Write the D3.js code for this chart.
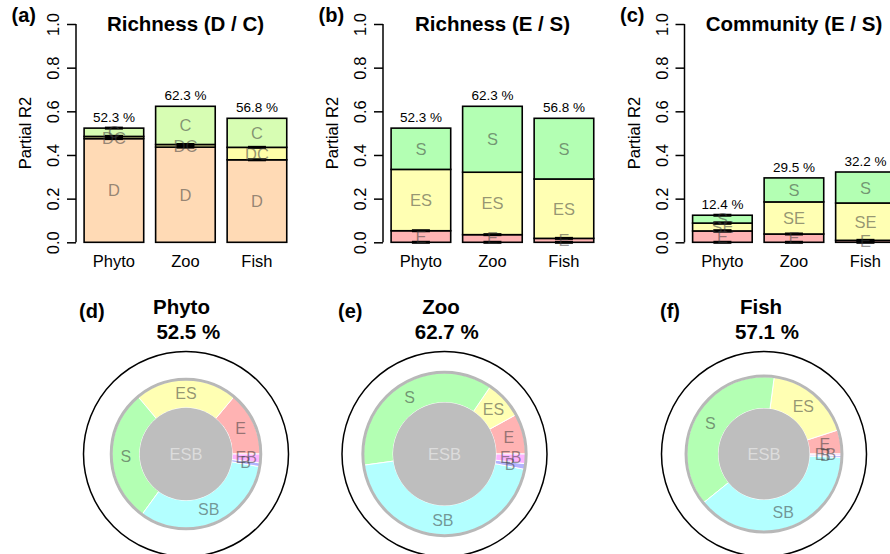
<!DOCTYPE html>
<html><head><meta charset="utf-8">
<script src="https://cdn.jsdelivr.net/npm/d3@7"></script>
<style>
body{margin:0;background:#fff}
svg{display:block}
text{font-family:"Liberation Sans",Arial,Helvetica,sans-serif}
</style>
</head><body>
<svg id="c" width="890" height="554"></svg>
<script>
// ---------------- DATA ----------------
const groups = ["Phyto", "Zoo", "Fish"];
const yTicks = [0, 0.2, 0.4, 0.6, 0.8, 1.0];
const panelLetters = ["(a)", "(b)", "(c)"];
const panelTitles = ["Richness (D / C)", "Richness (E / S)", "Community (E / S)"];

// (a) Richness D / C
const partsA = ["D", "DC", "C"];
const aD  = [0.475, 0.436, 0.378];
const aDC = [0.010, 0.012, 0.057];
const aC  = [0.038, 0.175, 0.133];

// (b) Richness E / S
const partsB = ["E", "ES", "S"];
const bE  = [0.053, 0.035, 0.018];
const bES = [0.281, 0.286, 0.272];
const bS  = [0.189, 0.302, 0.278];

// (c) Community E / S
const partsC = ["E", "SE", "S"];
const cE  = [0.052, 0.038, 0.009];
const cSE = [0.036, 0.147, 0.171];
const cS  = [0.036, 0.110, 0.142];

// (d)-(f) donuts
const donutLetters = ["(d)", "(e)", "(f)"];
const donutTotal  = [0.525, 0.627, 0.571];
const donutShared = [0.204, 0.252, 0.197];   // ESB
const ringParts = ["E", "ES", "S", "SB", "B", "EB"];
const ringPhyto = [0.139, 0.222, 0.289, 0.323, 0.008, 0.019];
const ringZoo   = [0.080, 0.075, 0.367, 0.448, 0.011, 0.019];
const ringFish  = [0.050, 0.179, 0.379, 0.385, 0.004, 0.003];

// ---------------- STYLE ----------------
const partColor = {
  D: "#FFDAB5", DC: "#FFFFA8", C: "#D7FDB3",
  E: "#FFB3B3", ES: "#FFFFB3", SE: "#FFFFB3", S: "#B3FFB3",
  SB: "#B3FFFF", B: "#B3B3FF", EB: "#FFB3FF"
};
const labelFill = "rgba(60,60,60,0.55)";

const svg = d3.select("#c");

// ---------------- BAR PANELS ----------------
const barPanels = [
  {parts: partsA, series: [aD, aDC, aC], axisX: 76},
  {parts: partsB, series: [bE, bES, bS], axisX: 383},
  {parts: partsC, series: [cE, cSE, cS], axisX: 684.5}
];
const unit = 59.6;
const y = d3.scaleLinear().domain([0, 1]).range([242.3, 24]);

barPanels.forEach((p, pi) => {
  const g = svg.append("g");
  const x = d3.scaleLinear().domain([0.064, 3.736]).range([p.axisX, p.axisX + 3.672 * unit]);

  // y axis
  const axis = d3.axisLeft(y).tickValues(yTicks).tickSize(9).tickFormat(d3.format(".1f"));
  const ag = g.append("g").attr("transform", `translate(${p.axisX},0)`).call(axis);
  ag.select(".domain").attr("stroke", "#000").attr("stroke-width", 1.5).attr("d", `M-9,${y(0)}H0V${y(1)}H-9`);
  ag.selectAll(".domain").attr("d", `M0,${y(0)}V${y(1)}`);
  ag.selectAll(".tick line").attr("stroke", "#000").attr("stroke-width", 1.5);
  ag.selectAll(".tick text")
    .attr("x", null).attr("dy", null)
    .attr("transform", "translate(-23,0) rotate(-90)")
    .attr("text-anchor", "middle")
    .attr("dominant-baseline", "central")
    .attr("font-size", 16.5).attr("fill", "#000")
    .style("font-family", '"Liberation Sans",Arial,sans-serif');

  // y label
  g.append("text")
    .attr("transform", `translate(${p.axisX - 51},${(y(0) + y(1)) / 2 + 0}) rotate(-90)`)
    .attr("text-anchor", "middle").attr("dominant-baseline", "central")
    .attr("font-size", 16.5).text("Partial R2");

  // title & letter
  g.append("text").attr("x", p.axisX + 109.5).attr("y", 31)
    .attr("text-anchor", "middle").attr("font-weight", "bold").attr("font-size", 20.5)
    .text(panelTitles[pi]);
  g.append("text").attr("x", p.axisX - 64.5).attr("y", 22)
    .attr("font-weight", "bold").attr("font-size", 20).text(panelLetters[pi]);

  groups.forEach((grp, gi) => {
    const left = x(0.2 + gi * 1.2), right = x(1.2 + gi * 1.2), cx = (left + right) / 2;
    let base = 0;
    const segs = p.parts.map((part, k) => {
      const v = p.series[k][gi];
      const s = {part, v, lo: base, hi: base + v};
      base += v;
      return s;
    });
    segs.forEach(s => {
      g.append("rect").attr("x", left).attr("width", right - left)
        .attr("y", y(s.hi)).attr("height", y(s.lo) - y(s.hi))
        .attr("fill", partColor[s.part]).attr("stroke", "#000").attr("stroke-width", 1.6);
    });
    segs.forEach(s => {
      if (s.v < 0.06) {
        [s.lo, s.hi].forEach(b => {
          g.append("line").attr("x1", cx - 9).attr("x2", cx + 9)
            .attr("y1", y(b)).attr("y2", y(b))
            .attr("stroke", "#000").attr("stroke-width", 3);
        });
      }
    });
    segs.forEach(s => {
      g.append("text").attr("x", cx).attr("y", y((s.lo + s.hi) / 2))
        .attr("text-anchor", "middle").attr("dominant-baseline", "central")
        .attr("font-size", 16.5).attr("fill", labelFill).text(s.part);
    });
    // total label
    g.append("text").attr("x", cx).attr("y", y(base) - 6)
      .attr("text-anchor", "middle").attr("font-size", 13.5)
      .text((base * 100).toFixed(1) + " %");
    // category label
    g.append("text").attr("x", cx).attr("y", 267)
      .attr("text-anchor", "middle").attr("font-size", 16.5).text(grp);
  });
});

// ---------------- DONUTS ----------------
const rings = [ringPhyto, ringZoo, ringFish];
const donutCX = [186, 444.5, 764];
const cy = 454, R = 102.5;
const titleDX = [-4.5, -3.5, -3];
const pctDX = [2.3, 2.2, 3];
const letterX = [79, 338, 660];

rings.forEach((vals, di) => {
  const cx = donutCX[di];
  const g = svg.append("g").attr("transform", `translate(${cx},${cy})`);
  const rOut = R * Math.sqrt(donutTotal[di]);
  const rIn = R * Math.sqrt(donutShared[di]);

  g.append("circle").attr("r", R).attr("fill", "none").attr("stroke", "#000").attr("stroke-width", 1.5);

  const pie = d3.pie().sort(null).value(d => d.v)
    .startAngle(Math.PI / 2).endAngle(Math.PI / 2 - 2 * Math.PI);
  const arcs = pie(ringParts.map((part, k) => ({part, v: vals[k]})));
  const arc = d3.arc().innerRadius(rIn).outerRadius(rOut);

  g.selectAll("path.seg").data(arcs).join("path")
    .attr("class", "seg").attr("d", arc)
    .attr("fill", d => partColor[d.data.part])
    .attr("stroke", "#fff").attr("stroke-width", 1);

  g.append("circle").attr("r", rOut + 0.5).attr("fill", "none")
    .attr("stroke", "#B8B8B8").attr("stroke-width", 3);
  g.append("circle").attr("r", rIn).attr("fill", "#BEBEBE");

  g.append("text").attr("x", 0).attr("y", 0)
    .attr("text-anchor", "middle").attr("dominant-baseline", "central")
    .attr("font-size", 16.5).attr("fill", "#DCDCDC").text("ESB");

  g.selectAll("text.lab").data(arcs).join("text")
    .attr("class", "lab")
    .attr("transform", d => `translate(${arc.centroid(d)})`)
    .attr("text-anchor", "middle").attr("dominant-baseline", "central")
    .attr("font-size", 16).attr("fill", labelFill)
    .text(d => d.data.part);

  svg.append("text").attr("x", cx + titleDX[di]).attr("y", 314)
    .attr("text-anchor", "middle").attr("font-weight", "bold").attr("font-size", 20.5)
    .text(groups[di]);
  svg.append("text").attr("x", cx + pctDX[di]).attr("y", 339)
    .attr("text-anchor", "middle").attr("font-weight", "bold").attr("font-size", 20.5)
    .text((donutTotal[di] * 100).toFixed(1) + " %");
  svg.append("text").attr("x", letterX[di]).attr("y", 318)
    .attr("font-weight", "bold").attr("font-size", 20).text(donutLetters[di]);
});
</script>
</body></html>
